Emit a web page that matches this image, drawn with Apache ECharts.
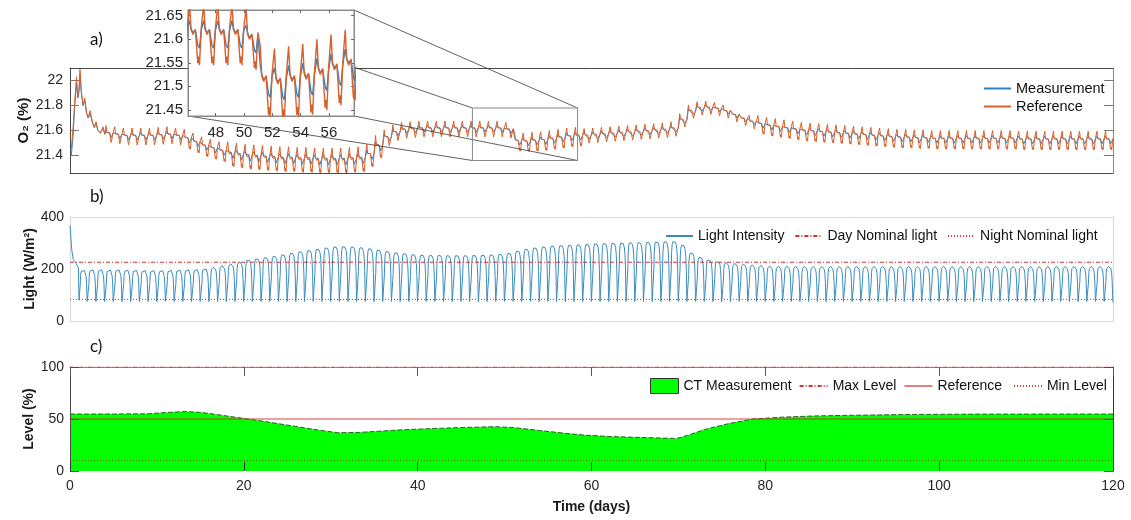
<!DOCTYPE html>
<html><head><meta charset="utf-8">
<script src="https://cdn.jsdelivr.net/npm/echarts@6/dist/echarts.min.js"></script>
<style>html,body{margin:0;padding:0;background:#fff}#c{width:1131px;height:520px}</style>
</head><body><div id="c"></div>
<script>
// ---------------- data ----------------
const xTicks = [0, 20, 40, 60, 80, 100, 120];
const o2Ticks = [21.4, 21.6, 21.8, 22];
const insetXTicks = [48, 50, 52, 54, 56];
const insetYTicks = [21.45, 21.5, 21.55, 21.6, 21.65];

// O2: start-up transient (days 0-4)
const o2StartDays = [0.15, 0.35, 0.55, 0.75, 0.9, 1.05, 1.15, 1.3, 1.5, 1.7, 1.9, 2.1, 2.3, 2.6, 2.8, 3.0, 3.2, 3.5, 3.8, 4.0];
const o2StartRef  = [21.45, 21.62, 21.84, 22.03, 21.86, 21.95, 22.09, 21.92, 21.80, 21.86, 21.74, 21.70, 21.76, 21.66, 21.62, 21.67, 21.60, 21.58, 21.63, 21.57];
const o2StartMeas = [21.40, 21.55, 21.80, 21.98, 21.86, 21.92, 22.05, 21.90, 21.80, 21.84, 21.74, 21.70, 21.74, 21.66, 21.63, 21.66, 21.60, 21.58, 21.62, 21.57];
// O2: daily band centre and half-range (days 4..119)
const o2FirstDay = 4;
const o2Center = [
  21.57,21.56,21.55,21.55,21.55,21.55,21.555,21.56,21.55,
  21.53,21.50,21.47,21.45,21.43,21.41,21.40,21.39,
  21.385,21.38,21.375,21.37,21.37,21.365,21.365,21.36,21.36,21.36,21.36,21.365,21.37,
  21.40,21.47,21.54,21.58,21.60,21.605,
  21.61,21.61,21.61,21.61,21.61,21.61,21.61,21.61,21.61,21.61,21.60,
  21.51,21.505,21.51,21.515,21.525,21.535,21.545,21.55,21.555,21.56,21.565,21.57,21.575,21.58,21.585,21.59,21.595,21.60,21.61,
  21.68,21.75,21.775,21.78,21.77,21.75,21.72,21.69,21.665,21.645,
  21.63,21.62,21.61,21.60,21.59,21.585,21.58,21.575,21.57,21.565,21.56,21.555,21.55,21.545,21.54,21.535,21.535,21.53,21.53,
  21.525,21.525,21.525,21.525,21.525,21.525,21.525,21.525,21.525,21.525,
  21.52,21.52,21.52,21.52,21.52,21.52,21.52,21.52,21.52,21.52,21.52
];
const o2Amp = [
  0.07,0.07,0.07,0.07,0.07,0.07,0.07,0.07,0.07,
  0.08,0.08,0.08,0.08,0.08,
  0.10,0.10,0.10,0.10,0.10,0.10,0.10,0.10,0.10,0.10,0.10,0.10,0.10,0.10,0.10,0.10,
  0.09,0.09,
  0.065,0.065,0.065,0.065,0.065,0.065,0.065,0.065,0.065,0.065,0.065,0.065,0.065,0.065,0.065,
  0.075,0.075,0.075,0.075,0.075,0.075,0.075,0.075,
  0.06,0.06,0.06,0.06,0.06,0.06,0.06,0.06,0.06,0.06,0.06,
  0.055,0.055,0.055,0.055,0.055,0.055,0.055,0.055,0.055,
  0.075,0.075,0.075,0.075,0.075,0.075,0.075,0.075,0.075,0.075,
  0.075,0.075,0.075,0.075,0.075,0.075,0.075,0.075,0.075,0.075,
  0.075,0.075,0.075,0.075,0.075,0.075,0.075,0.075,0.075,0.075,
  0.075,0.075,0.075,0.075,0.075,0.075,0.075,0.075,0.075,0.075,0.075
];
// daily waveform shape (position within the day, relative level)
const cyclePhase = 0.15;
const o2ShapeFrac = [0, 0.1, 0.24, 0.41, 0.58, 0.63, 0.7, 0.83];
const o2ShapeRef  = [1, 0.17, 0, 0.17, -0.94, -0.72, -1, 0.22];
const o2ShapeMeas = [0.45, 0.2, 0.05, 0.15, -0.35, -0.4, -0.45, 0.15];
// zoom box in panel a and inset ranges
const zoomBoxX = [46.3, 58.4];
const zoomBoxY = [21.36, 21.78];
const insetX = [46.04, 57.77];
const insetY = [21.437, 21.662];

// Light
const lightStartDays = [0, 0.1, 0.2, 0.38, 0.6, 0.8, 0.96, 1.04, 1.1];
const lightStartVals = [368, 320, 274, 236, 228, 225, 205, 80, 75];
const lightPeak = [ // days 1..119
  197,199,199,198,199,198,197,196,196,196,197,198,199,200,
  203,207,213,220,228,235,240,245,250,256,262,268,273,278,283,287,
  288,287,284,280,275,269,264,260,257,255,
  254,254,253,253,253,254,255,256,258,262,
  270,278,283,287,290,292,293,295,297,299,
  300,301,302,303,304,305,306,307,308,293,
  263,246,236,229,225,222,219,216,214,212,
  211,211,210,210,210,210,210,210,210,210,
  210,210,210,210,210,210,210,210,210,210,
  210,210,210,210,210,210,210,210,210,210,
  210,210,210,210,210,210,210,210,210
];
const lightNight = 75;
const lightShapeFrac  = [0, 0.03, 0.07, 0.13, 0.22, 0.35, 0.5, 0.62, 0.7, 0.76, 0.8, 0.83, 0.9];
const lightShapeLevel = [0, 0.55, 0.82, 0.94, 0.99, 1.0, 0.98, 0.92, 0.8, 0.55, 0.2, 0, -0.03];
const dayNominal = 226;
const nightNominal = 83;

// Level
const levelDays = [0,5,9,11,13.2,15,17,19,20.5,23,26,28.5,30.8,33,35.5,37.7,41,44.6,48.9,51,54,57,59.2,62,65,69.8,71,73.2,75.9,78.6,82,85.5,90,97,105,120];
const levelVals = [54.8,54.8,55.0,56.2,57.1,56.4,54.2,51.7,50.0,46.8,42.8,39.5,36.8,37.0,38.2,39.4,40.6,41.7,42.6,41.8,39.0,36.2,34.5,33.2,32.4,31.3,34.2,40.3,45.8,50.0,51.8,52.9,53.6,54.4,54.7,54.8];
const levelMax = 100, levelRef = 50, levelMin = 10;

// ---------------- build ----------------
function buildO2(startVals, shape) {
  const pts = o2StartDays.map((d, i) => [d, startVals[i]]);
  o2Center.forEach((c, k) => {
    const d0 = o2FirstDay + k + cyclePhase;
    o2ShapeFrac.forEach((f, j) => pts.push([d0 + f, c + o2Amp[k] * shape[j]]));
  });
  return pts;
}
const o2Meas = buildO2(o2StartMeas, o2ShapeMeas);
const o2Ref = buildO2(o2StartRef, o2ShapeRef);
const lightPts = lightStartDays.map((d, i) => [d, lightStartVals[i]]);
lightPeak.forEach((p, k) => {
  const d0 = 1 + k + cyclePhase;
  lightShapeFrac.forEach((f, j) => lightPts.push([d0 + f, lightNight + (p - lightNight) * lightShapeLevel[j]]));
});
const levelPts = levelDays.map((d, i) => [d, levelVals[i]]);
const hline = v => [[0, v], [120, v]];

const FONT = 'Liberation Sans, Arial, sans-serif';
const TXT = '#262626';
const DARK = '#4a4a4a';
const LIGHT = '#d9d9d9';
const BLUE = '#2f80c2';
const ORANGE = '#d9602a';
const RED = '#d93030';

function xax(grid, opts) {
  return Object.assign({type: 'value', gridIndex: grid, min: 0, max: 120, splitLine: {show: false},
    axisLabel: {show: false}, axisTick: {show: false}, axisLine: {onZero: false, lineStyle: {color: DARK, width: 1}}}, opts);
}
function yax(grid, opts) {
  return Object.assign({type: 'value', gridIndex: grid, splitLine: {show: false},
    axisLabel: {show: false}, axisTick: {show: false}, axisLine: {show: true, onZero: false, lineStyle: {color: DARK, width: 1}}}, opts);
}
const lblStyle = {show: true, color: TXT, fontSize: 14, fontFamily: FONT};
const nameStyle = {color: '#1a1a1a', fontSize: 14, fontWeight: 'bold', fontFamily: FONT};
const legText = {color: '#111', fontSize: 14, fontFamily: FONT};

const option = {
  animation: false,
  textStyle: {fontFamily: FONT},
  grid: [
    {left: 70, top: 68, width: 1043, height: 105, outerBoundsMode: 'none'},
    {left: 70, top: 217, width: 1043, height: 104, outerBoundsMode: 'none'},
    {left: 70, top: 367, width: 1043, height: 104, outerBoundsMode: 'none'},
    {left: 188, top: 10, width: 166, height: 106, z: 10, show: true, backgroundColor: '#fff', borderColor: '#8a8a8a', borderWidth: 1, outerBoundsMode: 'none'}
  ],
  xAxis: [
    xax(0, {position: 'bottom'}),
    xax(0, {position: 'top'}),
    xax(1, {position: 'bottom', axisLine: {onZero: false, lineStyle: {color: LIGHT}}}),
    xax(1, {position: 'top', axisLine: {onZero: false, lineStyle: {color: LIGHT}}}),
    xax(2, {position: 'bottom', z: 3, interval: 20, axisLine: {show: false, onZero: false},
      axisTick: {show: true, inside: true, length: 9, lineStyle: {color: '#333'}},
      axisLabel: Object.assign({}, lblStyle, {margin: 8, customValues: xTicks}),
      name: 'Time (days)', nameLocation: 'middle', nameGap: 29, nameMoveOverlap: false, nameTextStyle: nameStyle}),
    xax(2, {position: 'top', z: 3, interval: 20, axisLine: {show: true, onZero: false, lineStyle: {color: '#888'}},
      axisTick: {show: true, inside: true, length: 9, lineStyle: {color: '#555'}}}),
    xax(3, {position: 'bottom', z: 11, min: insetX[0], max: insetX[1],
      axisLine: {onZero: false, lineStyle: {color: '#8a8a8a'}},
      axisTick: {show: true, inside: true, length: 3, customValues: insetXTicks, lineStyle: {color: '#666'}},
      axisLabel: Object.assign({}, lblStyle, {fontSize: 15, margin: 9, customValues: insetXTicks})}),
    xax(3, {position: 'top', z: 11, min: insetX[0], max: insetX[1],
      axisLine: {onZero: false, lineStyle: {color: '#8a8a8a'}},
      axisTick: {show: true, inside: true, length: 3, customValues: insetXTicks, lineStyle: {color: '#666'}}})
  ],
  yAxis: [
    yax(0, {position: 'left', min: 21.26, max: 22.1,
      axisTick: {show: true, inside: true, length: 9, customValues: o2Ticks, lineStyle: {color: '#777'}},
      axisLabel: Object.assign({}, lblStyle, {margin: 7, customValues: o2Ticks}),
      name: 'O\u2082 (%)', nameLocation: 'middle', nameGap: 39, nameMoveOverlap: false,
      nameTextStyle: Object.assign({}, nameStyle, {fontSize: 15})}),
    yax(0, {position: 'right', min: 21.26, max: 22.1, axisLine: {show: true, onZero: false, lineStyle: {color: '#888'}},
      axisTick: {show: true, inside: true, length: 9, customValues: o2Ticks, lineStyle: {color: '#777'}}}),
    yax(1, {position: 'left', min: 0, max: 400, interval: 200, axisLine: {show: true, onZero: false, lineStyle: {color: LIGHT}},
      axisLabel: Object.assign({}, lblStyle, {margin: 6}),
      name: 'Light (W/m\u00B2)', nameLocation: 'middle', nameGap: 33, nameMoveOverlap: false, nameTextStyle: nameStyle}),
    yax(1, {position: 'right', min: 0, max: 400, axisLine: {show: true, onZero: false, lineStyle: {color: LIGHT}}}),
    yax(2, {position: 'left', z: 3, min: 0, max: 100, interval: 50,
      axisTick: {show: true, inside: true, length: 9, lineStyle: {color: '#444'}},
      axisLabel: Object.assign({}, lblStyle, {margin: 6}),
      name: 'Level (%)', nameLocation: 'middle', nameGap: 34, nameMoveOverlap: false, nameTextStyle: nameStyle}),
    yax(2, {position: 'right', z: 3, min: 0, max: 100, interval: 50, axisLine: {show: true, onZero: false, lineStyle: {color: '#333'}},
      axisTick: {show: true, inside: true, length: 9, lineStyle: {color: '#444'}}}),
    yax(3, {position: 'left', z: 11, min: insetY[0], max: insetY[1], axisLine: {show: true, onZero: false, lineStyle: {color: '#8a8a8a'}},
      axisTick: {show: true, inside: true, length: 3, customValues: insetYTicks, lineStyle: {color: '#666'}},
      axisLabel: Object.assign({}, lblStyle, {fontSize: 15, margin: 5, customValues: insetYTicks})}),
    yax(3, {position: 'right', z: 11, min: insetY[0], max: insetY[1], axisLine: {show: true, onZero: false, lineStyle: {color: '#8a8a8a'}},
      axisTick: {show: true, inside: true, length: 3, customValues: insetYTicks, lineStyle: {color: '#666'}}})
  ],
  legend: [
    {left: 983, top: 81, padding: 0, orient: 'vertical', itemWidth: 27, itemHeight: 14, itemGap: 3,
      itemStyle: {opacity: 0}, textStyle: Object.assign({}, legText, {fontSize: 14.5}),
      data: ['Measurement', 'Reference'], selectedMode: false},
    {left: 665, top: 229, padding: 0, itemWidth: 27, itemHeight: 14, itemGap: 10,
      itemStyle: {opacity: 0}, textStyle: legText,
      data: ['Light Intensity', 'Day Nominal light', 'Night Nominal light'], selectedMode: false},
    {left: 650, top: 378, padding: 0, itemWidth: 28, itemHeight: 15, itemGap: 7,
      itemStyle: {opacity: 0}, textStyle: legText, selectedMode: false,
      data: [{name: 'CT Measurement', icon: 'rect', itemStyle: {opacity: 1, color: '#00ff00', borderColor: '#333', borderWidth: 1}},
        'Max Level', 'Reference ', 'Min Level']}
  ],
  series: [
    {name: 'Measurement', type: 'line', xAxisIndex: 0, yAxisIndex: 0, data: o2Meas, showSymbol: false, symbol: 'none',
      lineStyle: {color: BLUE, width: 1}, itemStyle: {color: BLUE}},
    {name: 'Reference', type: 'line', xAxisIndex: 0, yAxisIndex: 0, data: o2Ref, showSymbol: false, symbol: 'none',
      lineStyle: {color: ORANGE, width: 1}, itemStyle: {color: ORANGE}},
    {name: 'Measurement', type: 'line', xAxisIndex: 6, yAxisIndex: 6, z: 12, data: o2Meas, symbol: 'none',
      lineStyle: {color: BLUE, width: 1.4}, itemStyle: {color: BLUE}},
    {name: 'Reference', type: 'line', xAxisIndex: 6, yAxisIndex: 6, z: 12, data: o2Ref, symbol: 'none',
      lineStyle: {color: ORANGE, width: 1.4}, itemStyle: {color: ORANGE}},
    {name: 'Light Intensity', type: 'line', xAxisIndex: 2, yAxisIndex: 2, data: lightPts, symbol: 'none',
      lineStyle: {color: '#3a8cbf', width: 1}, itemStyle: {color: '#3a8cbf'}},
    {name: 'Day Nominal light', type: 'line', xAxisIndex: 2, yAxisIndex: 2, data: hline(dayNominal), symbol: 'none',
      lineStyle: {color: RED, width: 1, type: [4, 2, 1, 2]}, itemStyle: {color: RED}},
    {name: 'Night Nominal light', type: 'line', xAxisIndex: 2, yAxisIndex: 2, data: hline(nightNominal), symbol: 'none',
      lineStyle: {color: RED, width: 1, type: [1, 2]}, itemStyle: {color: RED}},
    {name: 'CT Measurement', type: 'line', xAxisIndex: 4, yAxisIndex: 4, data: levelPts, symbol: 'none',
      lineStyle: {color: '#2e5e2e', width: 1, type: [5, 2]}, itemStyle: {color: '#00ff00'},
      areaStyle: {color: '#00ff00', opacity: 1}},
    {name: 'Max Level', type: 'line', xAxisIndex: 4, yAxisIndex: 4, data: hline(levelMax), symbol: 'none', z: 4,
      lineStyle: {color: RED, width: 1, type: [4, 2, 1, 2]}, itemStyle: {color: RED}},
    {name: 'Reference ', type: 'line', xAxisIndex: 4, yAxisIndex: 4, data: hline(levelRef), symbol: 'none',
      lineStyle: {color: 'rgba(215,40,40,0.6)', width: 1.3}, itemStyle: {color: RED}},
    {name: 'Min Level', type: 'line', xAxisIndex: 4, yAxisIndex: 4, data: hline(levelMin), symbol: 'none',
      lineStyle: {color: 'rgba(150,20,20,0.8)', width: 1, type: [1, 2]}, itemStyle: {color: RED}}
  ]
};

const chart = echarts.init(document.getElementById('c'));
chart.setOption(option);

// zoom box + connector lines
const pm = (x, y) => chart.convertToPixel({xAxisIndex: 0, yAxisIndex: 0}, [x, y]);
const pi = (x, y) => chart.convertToPixel({xAxisIndex: 6, yAxisIndex: 6}, [x, y]);
const bTL = pm(zoomBoxX[0], zoomBoxY[1]), bBR = pm(zoomBoxX[1], zoomBoxY[0]);
const iTL = pi(insetX[0], insetY[1]), iBR = pi(insetX[1], insetY[0]);
const corners = [
  [[iTL[0], iTL[1]], [bTL[0], bTL[1]]],
  [[iBR[0], iTL[1]], [bBR[0], bTL[1]]],
  [[iTL[0], iBR[1]], [bTL[0], bBR[1]]],
  [[iBR[0], iBR[1]], [bBR[0], bBR[1]]]
];
const gfx = corners.map(c => ({type: 'line', z: 5, silent: true,
  shape: {x1: c[0][0], y1: c[0][1], x2: c[1][0], y2: c[1][1]}, style: {stroke: '#3a3a3a', lineWidth: 0.8}}));
gfx.push({type: 'rect', z: 5, silent: true,
  shape: {x: bTL[0], y: bTL[1], width: bBR[0] - bTL[0], height: bBR[1] - bTL[1]},
  style: {fill: 'none', stroke: '#8a8a8a', lineWidth: 1}});
[['a)', 31], ['b)', 188], ['c)', 338]].forEach(t => gfx.push({type: 'text', z: 20, left: 90, top: t[1],
  style: {text: t[0], fontSize: 17, fontFamily: 'Lato, Open Sans, sans-serif', fill: '#111'}}));
chart.setOption({graphic: {elements: gfx}});
</script></body></html>
